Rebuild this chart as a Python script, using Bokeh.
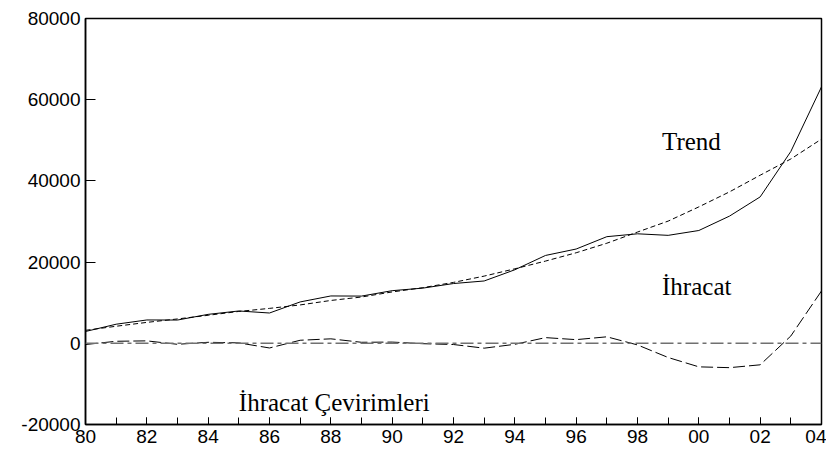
from bokeh.plotting import figure
from bokeh.models import Range1d, SingleIntervalTicker, Span, Label, ColumnDataSource
from bokeh.embed import file_html
from bokeh.resources import INLINE

years = list(range(1980, 2005))
exports = [2910, 4700, 5750, 5730, 7130, 7960, 7460, 10190, 11660, 11630,
           12960, 13590, 14720, 15350, 18110, 21640, 23220, 26260, 26970, 26590,
           27780, 31330, 36060, 47250, 63170]
trend = [3200, 4200, 5150, 6000, 6900, 7850, 8600, 9450, 10550, 11400,
         12650, 13700, 15000, 16550, 18350, 20250, 22300, 24650, 27400, 30100,
         33600, 37300, 41400, 45400, 50300]
cycle = [-300, 500, 600, -250, 250, 100, -1150, 750, 1100, 250,
         300, -100, -300, -1200, -250, 1400, 900, 1600, -400, -3500,
         -5800, -6000, -5300, 1800, 12900]

x_labels = {y: f"{y % 100:02d}" for y in range(1980, 2005, 2)}
y_ticks = [-20000, 0, 20000, 40000, 60000, 80000]
y_labels = {v: str(v) for v in y_ticks}

src = ColumnDataSource(dict(year=years, exports=exports, trend=trend, cycle=cycle))

p = figure(width=826, height=453, output_backend="svg", toolbar_location=None,
           x_range=Range1d(1980, 2004), y_range=Range1d(-20000, 80000),
           min_border_left=85, min_border_right=5, min_border_top=18, min_border_bottom=29)
p.background_fill_color = "white"
p.border_fill_color = "white"
p.outline_line_color = "black"
p.outline_line_width = 1.5
p.grid.visible = False

# axes
p.xaxis.ticker = SingleIntervalTicker(interval=2, num_minor_ticks=2)
p.xaxis.major_label_overrides = x_labels
p.yaxis.ticker = SingleIntervalTicker(interval=20000, num_minor_ticks=0)
p.yaxis.major_label_overrides = y_labels
for ax in (p.xaxis, p.yaxis):
    ax.axis_line_color = "black"
    ax.axis_line_width = 1.5
    ax.major_tick_out = 0
    ax.minor_tick_out = 0
    ax.major_tick_line_color = "black"
    ax.minor_tick_line_color = "black"
    ax.major_label_text_font = "Liberation Sans"
    ax.major_label_text_font_size = "19px"
    ax.major_label_text_color = "black"
    ax.major_label_standoff = 5
p.xaxis.major_tick_in = 7
p.xaxis.minor_tick_in = 7
p.yaxis.major_tick_in = 10
p.yaxis.minor_tick_in = 0

p.add_layout(Span(location=0, dimension="width", line_color="#707070",
                  line_width=1.5, line_dash="13 4 4 4"))

p.line("year", "exports", source=src, line_color="black", line_width=1)
p.line("year", "trend", source=src, line_color="black", line_width=1, line_dash="5 3")
p.line("year", "cycle", source=src, line_color="black", line_width=1, line_dash="12 4")

lab_style = dict(text_font="Liberation Serif", text_font_size="25px", text_color="black",
                 text_align="left", text_baseline="alphabetic")
p.add_layout(Label(x=1998.8, y=49800, text="Trend", **lab_style))
p.add_layout(Label(x=1998.8, y=13900, text="İhracat", **lab_style))
p.add_layout(Label(x=1985.0, y=-14500, text="İhracat Çevirimleri", **lab_style))

open("out.html", "w").write(file_html(p, INLINE))
